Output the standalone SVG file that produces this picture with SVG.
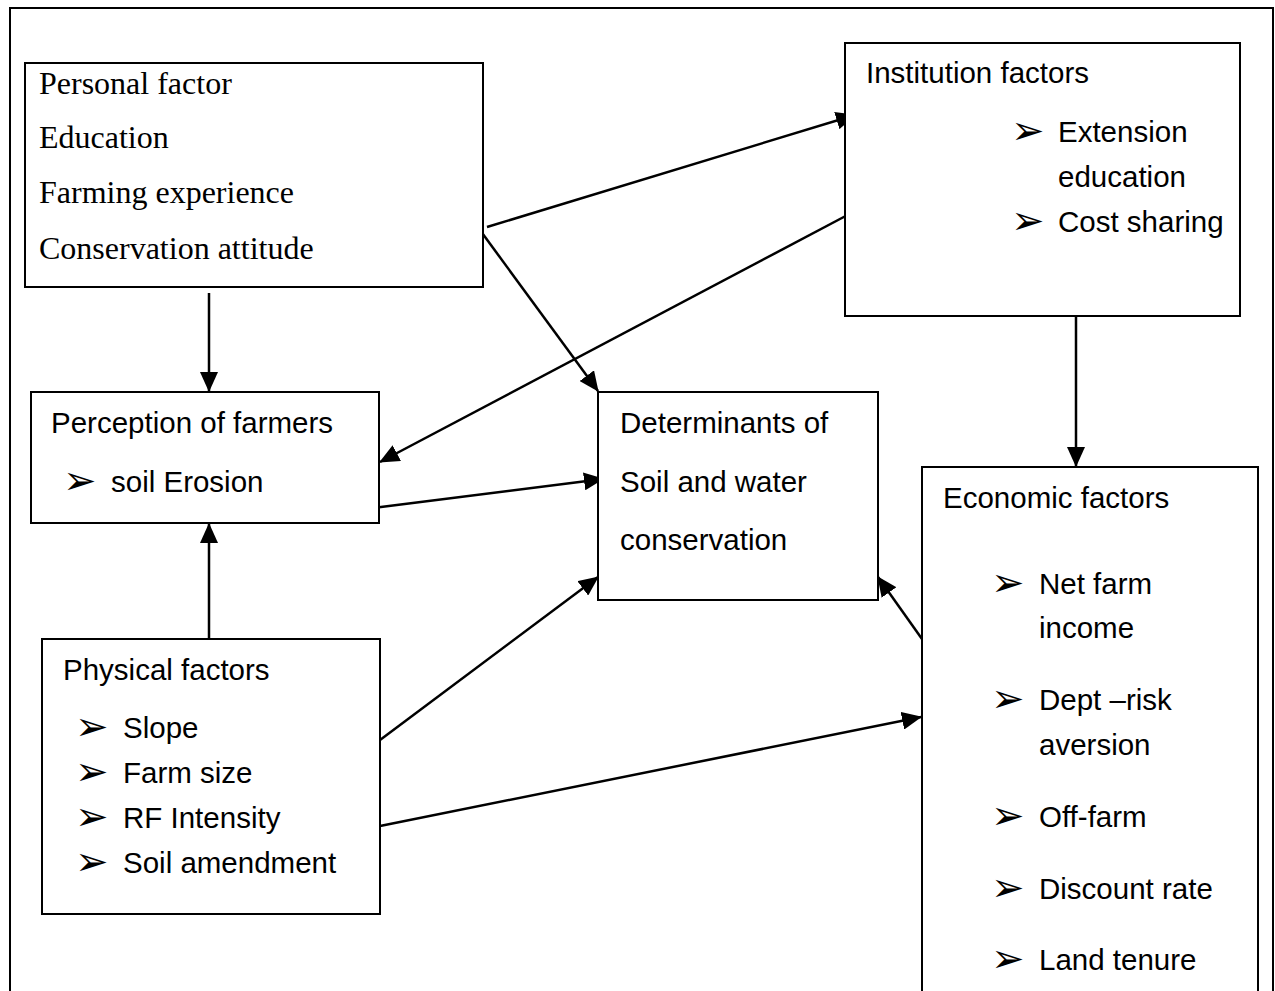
<svg xmlns="http://www.w3.org/2000/svg" width="1275" height="991" viewBox="0 0 1275 991">
<style>
.box{fill:#fff;stroke:#000;stroke-width:2}
.serif{font-family:"Liberation Serif","Times New Roman",serif;font-size:32px;fill:#000}
.sans{font-family:"Liberation Sans",Arial,sans-serif;font-size:29.5px;fill:#000}
.bul{font-family:"DejaVu Sans",sans-serif;font-size:40px;fill:#000}
.con{stroke:#000;stroke-width:2.5;fill:none;marker-end:url(#ah)}
</style>
<defs>
<marker id="ah" markerUnits="userSpaceOnUse" viewBox="0 0 20 18" markerWidth="20" markerHeight="18" refX="19" refY="9" orient="auto">
<path d="M0,0 L20,9 L0,18 z" fill="#000"/>
</marker>
</defs>
<rect width="1275" height="991" fill="#fff"/>
<path id="frame" d="M10,991 V8 H1273 V991" fill="none" stroke="#000" stroke-width="2"/>
<g id="connectors">
<line class="con" x1="487" y1="227" x2="855" y2="115"/>
<line class="con" x1="857" y1="210" x2="380" y2="462"/>
<line class="con" x1="477" y1="226" x2="598" y2="391"/>
<line class="con" x1="209" y1="293" x2="209" y2="391"/>
<line class="con" x1="209" y1="640" x2="209" y2="524"/>
<line class="con" x1="373" y1="508" x2="603" y2="479"/>
<line class="con" x1="380" y1="740" x2="598" y2="577"/>
<line class="con" x1="380" y1="826" x2="921" y2="717"/>
<line class="con" x1="922" y1="639" x2="878" y2="577"/>
<line class="con" x1="1076" y1="316" x2="1076" y2="466"/>
</g>
<g id="personal">
<rect class="box" x="25" y="63" width="458" height="224"/>
<text class="serif" x="39" y="94">Personal factor</text>
<text class="serif" x="39" y="148">Education</text>
<text class="serif" x="39" y="203">Farming experience</text>
<text class="serif" x="39" y="259">Conservation attitude</text>
</g>
<g id="institution">
<rect class="box" x="845" y="43" width="395" height="273"/>
<text class="sans" x="866" y="83">Institution factors</text>
<text class="bul" x="1011" y="144">➢</text>
<text class="sans" x="1058" y="142">Extension</text>
<text class="sans" x="1058" y="187">education</text>
<text class="bul" x="1011" y="234">➢</text>
<text class="sans" x="1058" y="232">Cost sharing</text>
</g>
<g id="perception">
<rect class="box" x="31" y="392" width="348" height="131"/>
<text class="sans" x="51" y="433">Perception of farmers</text>
<text class="bul" x="63" y="494">➢</text>
<text class="sans" x="111" y="492">soil Erosion</text>
</g>
<g id="determinants">
<rect class="box" x="598" y="392" width="280" height="208"/>
<text class="sans" x="620" y="433">Determinants of</text>
<text class="sans" x="620" y="492">Soil and water</text>
<text class="sans" x="620" y="550">conservation</text>
</g>
<g id="economic">
<rect class="box" x="922" y="467" width="336" height="540"/>
<text class="sans" x="943" y="508">Economic factors</text>
<text class="bul" x="991" y="596">➢</text>
<text class="sans" x="1039" y="594">Net farm</text>
<text class="sans" x="1039" y="638">income</text>
<text class="bul" x="991" y="712">➢</text>
<text class="sans" x="1039" y="710">Dept –risk</text>
<text class="sans" x="1039" y="755">aversion</text>
<text class="bul" x="991" y="829">➢</text>
<text class="sans" x="1039" y="827">Off-farm</text>
<text class="bul" x="991" y="901">➢</text>
<text class="sans" x="1039" y="899">Discount rate</text>
<text class="bul" x="991" y="972">➢</text>
<text class="sans" x="1039" y="970">Land tenure</text>
</g>
<g id="physical">
<rect class="box" x="42" y="639" width="338" height="275"/>
<text class="sans" x="63" y="680">Physical factors</text>
<text class="bul" x="75" y="740">➢</text>
<text class="sans" x="123" y="738">Slope</text>
<text class="bul" x="75" y="785">➢</text>
<text class="sans" x="123" y="783">Farm size</text>
<text class="bul" x="75" y="830">➢</text>
<text class="sans" x="123" y="828">RF Intensity</text>
<text class="bul" x="75" y="875">➢</text>
<text class="sans" x="123" y="873">Soil amendment</text>
</g>
</svg>
